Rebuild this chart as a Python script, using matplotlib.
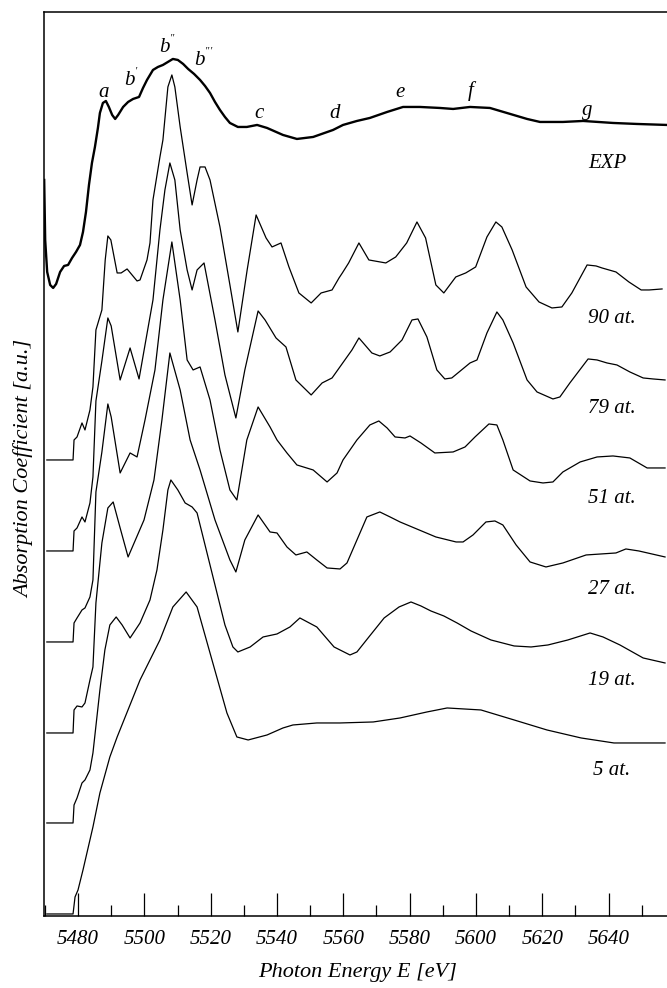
import matplotlib
matplotlib.use("Agg")
import matplotlib.pyplot as plt
from matplotlib.ticker import MultipleLocator

# ---------------- data (energies in eV, intensities in a.u.) ----------------
exp_E = [5469.8, 5470.1, 5470.7, 5471.6, 5472.5, 5473.4, 5474.6, 5475.8, 5477.0, 5478.2,
         5479.4, 5480.6, 5481.5, 5482.4, 5483.3, 5484.2, 5485.1, 5486.0, 5486.6, 5487.5,
         5488.4, 5489.3, 5490.3, 5491.2, 5492.1, 5493.6, 5495.1, 5496.6, 5498.4, 5499.6,
         5500.8, 5502.6, 5504.1, 5505.6, 5507.1, 5508.6, 5510.1, 5511.7, 5513.2, 5515.0,
         5516.8, 5518.3, 5519.8, 5521.3, 5522.8, 5524.3, 5525.8, 5528.2, 5530.9, 5534.0,
         5537.0, 5541.8, 5546.0, 5550.9, 5556.9, 5559.9, 5564.1, 5568.0, 5573.2, 5578.0,
         5583.1, 5589.1, 5593.1, 5598.2, 5604.2, 5609.3, 5615.4, 5619.3, 5626.2, 5632.3,
         5641.3, 5648.5, 5657.6]
exp_I = [736, 676, 644, 631, 628, 632, 644, 650, 651, 658,
         664, 671, 684, 704, 731, 753, 769, 788, 803, 813,
         815, 809, 801, 797, 801, 809, 814, 817, 819, 828,
         836, 846, 849, 851, 854, 857, 856, 852, 847, 842,
         836, 830, 823, 814, 806, 799, 793, 789, 789, 791,
         788, 781, 777, 779, 786, 791, 795, 798, 804, 809,
         809, 808, 807, 809, 808, 803, 797, 794, 794, 795,
         793, 792, 791]

pre_E = [5470.6, 5478.5, 5478.8, 5479.7, 5481.2, 5482.1, 5483.6, 5484.5]

at90_E = pre_E + [5485.4, 5487.2, 5488.2, 5489.0, 5489.9, 5491.8, 5493.0, 5494.8, 5497.8, 5498.7,
                  5500.8, 5501.7, 5502.6, 5504.7, 5505.6, 5507.1, 5508.3, 5509.2, 5510.8, 5512.9,
                  5514.4, 5515.9, 5516.8, 5518.3, 5519.8, 5522.8, 5525.8, 5528.2, 5531.0, 5533.7,
                  5536.7, 5538.5, 5541.2, 5543.6, 5546.6, 5550.3, 5553.3, 5556.6, 5558.7, 5559.7,
                  5561.6, 5564.7, 5567.7, 5572.8, 5575.8, 5579.1, 5582.2, 5584.8, 5587.9, 5590.3,
                  5593.9, 5596.9, 5599.9, 5603.3, 5606.0, 5607.8, 5610.9, 5615.1, 5619.0, 5622.9,
                  5625.9, 5628.9, 5633.5, 5636.2, 5638.0, 5642.2, 5646.1, 5649.8, 5652.2, 5656.1]
at90_I = [0, 0, 20, 23, 37, 30, 50, 73] + \
         [130, 150, 200, 224, 220, 187, 187, 191, 179, 180,
          200, 217, 260, 303, 320, 373, 385, 373, 333, 287,
          255, 280, 293, 293, 280, 233, 175, 128, 190, 245,
          222, 213, 217, 193, 167, 157, 167, 170, 182, 187,
          197, 217, 200, 197, 203, 217, 238, 222, 175, 167,
          183, 187, 193, 223, 238, 233, 210, 173, 158, 152,
          153, 167, 195, 194, 192, 188, 178, 170, 170, 171]

at79_E = pre_E + [5485.4, 5487.2, 5489.0, 5490.0, 5492.7, 5495.7, 5498.4, 5500.2, 5502.6, 5504.7,
                  5506.2, 5507.7, 5509.2, 5510.8, 5512.9, 5514.4, 5515.9, 5518.0, 5521.3, 5524.3,
                  5527.6, 5530.3, 5534.3, 5536.4, 5539.7, 5542.7, 5545.7, 5550.3, 5553.6,
                  5556.6, 5562.6, 5564.7, 5568.6, 5571.0, 5574.1, 5577.7, 5580.7, 5582.5, 5585.2,
                  5588.2, 5590.6, 5592.7, 5598.2, 5600.3, 5603.3, 5606.3, 5608.1, 5611.2, 5615.4,
                  5618.4, 5623.2, 5625.3, 5628.3, 5633.8, 5636.5, 5639.5, 5642.5, 5646.4, 5650.4,
                  5653.4, 5657.0]
at79_I = [0, 0, 20, 23, 34, 29, 48, 74] + \
         [150, 190, 233, 225, 171, 203, 172, 206, 251, 321,
          361, 388, 371, 321, 281, 261, 281, 288, 231, 176,
          133, 181, 240, 231, 213, 204, 171, 156, 168,
          173, 201, 213, 198, 195, 199, 211, 231, 232, 214,
          181, 172, 173, 188, 191, 218, 239, 231, 208, 171,
          159, 152, 154, 168, 192, 191, 188, 186, 179, 173,
          172, 171]

at51_E = pre_E + [5485.4, 5487.2, 5489.0, 5490.0, 5492.7, 5495.7, 5497.8, 5500.2, 5503.2, 5505.6,
                  5508.3, 5510.8, 5512.9, 5514.7, 5516.8, 5519.8, 5522.8, 5525.8, 5527.9, 5530.9,
                  5534.3, 5537.9, 5540.0, 5543.0, 5546.0, 5550.9, 5555.1, 5558.1, 5559.9, 5564.1,
                  5568.0, 5570.7, 5573.2, 5575.6, 5578.6, 5580.1, 5583.4, 5587.6, 5593.1, 5596.7,
                  5599.7, 5603.9, 5606.3, 5608.1, 5611.2, 5616.3, 5620.2, 5623.2, 5626.2, 5631.4,
                  5636.5, 5641.3, 5646.4, 5651.6, 5657.0]
at51_I = [0, 0, 19, 24, 32, 34, 45, 62] + \
         [150, 190, 238, 225, 169, 189, 185, 222, 272, 342,
          400, 342, 282, 272, 275, 242, 192, 152, 142, 202,
          235, 215, 202, 189, 177, 172, 160, 169, 182, 202,
          217, 221, 214, 205, 204, 206, 199, 189, 190, 195,
          205, 218, 217, 202, 172, 161, 159, 160, 170, 180,
          185, 186, 184, 174, 174]

at27_E = pre_E + [5485.4, 5487.2, 5489.0, 5490.6, 5492.7, 5495.1, 5499.9, 5502.9, 5505.3, 5507.7,
                  5510.8, 5513.8, 5516.8, 5521.3, 5525.8, 5527.6, 5530.3, 5534.3, 5537.9, 5540.0,
                  5543.0, 5545.7, 5549.0, 5552.0, 5555.1, 5559.0, 5561.1, 5564.1, 5567.1, 5571.0,
                  5574.1, 5577.1, 5580.7, 5587.9, 5594.0, 5596.1, 5599.1, 5603.0, 5605.7, 5608.1,
                  5612.1, 5616.3, 5621.1, 5626.2, 5633.2, 5642.2, 5645.2, 5649.1, 5657.0]
at27_I = [0, 0, 23, 27, 26, 30, 53, 66] + \
         [130, 190, 225, 231, 205, 176, 213, 253, 313, 380,
          343, 293, 263, 213, 173, 161, 193, 218, 201, 200,
          186, 178, 181, 173, 165, 164, 170, 193, 216, 221,
          216, 211, 206, 196, 191, 191, 198, 211, 212, 208,
          188, 171, 166, 170, 178, 180, 184, 182, 176]

at19_E = pre_E + [5486.6, 5488.1, 5489.6, 5491.5, 5493.3, 5495.7, 5498.7, 5501.7, 5503.8, 5505.6,
                  5507.1, 5508.0, 5510.1, 5512.3, 5514.4, 5515.9, 5518.3, 5521.3, 5524.3, 5526.7,
                  5528.2, 5531.9, 5535.8, 5540.0, 5543.9, 5546.9, 5552.0, 5557.2, 5560.2, 5562.0,
                  5564.1, 5567.7, 5572.3, 5576.8, 5580.4, 5583.4, 5586.4, 5590.3, 5594.3, 5598.5,
                  5604.5, 5611.5, 5616.6, 5621.7, 5627.7, 5634.4, 5638.3, 5643.4, 5650.4, 5657.0]
at19_I = [0, 0, 18, 25, 40, 43, 53, 70] + \
         [133, 173, 198, 206, 198, 185, 200, 223, 253, 293,
          333, 343, 333, 320, 316, 310, 278, 238, 198, 176,
          171, 176, 186, 189, 196, 205, 196, 176, 171, 168,
          171, 186, 205, 216, 221, 217, 212, 207, 200, 192,
          183, 177, 176, 178, 183, 190, 186, 178, 165, 160]

at5_E = [5470.6, 5478.5, 5479.1, 5480.0, 5481.5, 5484.5, 5486.6, 5489.6, 5491.8, 5498.7,
         5504.7, 5508.6, 5512.6, 5515.9, 5519.8, 5524.9, 5527.9, 5531.3, 5537.0, 5541.8,
         5544.8, 5552.0, 5559.0, 5569.0, 5577.1, 5585.2, 5591.3, 5601.5, 5611.5, 5621.4,
         5631.7, 5641.6, 5652.2, 5657.0]
at5_I = [0, 0, 17, 24, 44, 87, 121, 157, 177, 234,
         274, 307, 322, 307, 261, 201, 177, 174, 179, 186,
         189, 191, 191, 192, 196, 202, 206, 204, 194, 184,
         176, 171, 171, 171]

series = [("90 at.", at90_E, at90_I), ("79 at.", at79_E, at79_I), ("51 at.", at51_E, at51_I),
          ("27 at.", at27_E, at27_I), ("19 at.", at19_E, at19_I), ("5 at.", at5_E, at5_I)]
offsets = [456, 365, 274, 183, 93, 2]

peak_labels = ["a", "b$^{'}$", "b$^{''}$", "b$^{'''}$", "c", "d", "e", "f", "g"]
peak_E = [5487.8, 5496.0, 5507.0, 5518.0, 5534.5, 5557.5, 5577.0, 5598.5, 5633.5]
peak_y = [819, 829, 862, 849, 798, 798, 819, 820, 801]

# ---------------- figure ----------------
plt.rcParams['font.family'] = ['Liberation Serif', 'DejaVu Serif']
plt.rcParams['mathtext.fontset'] = 'custom'
plt.rcParams['mathtext.it'] = 'Liberation Serif:italic'
plt.rcParams['mathtext.rm'] = 'Liberation Serif:italic'

fig = plt.figure(figsize=(6.67, 9.88), dpi=100)
ax = fig.add_axes([0.066, 0.0729, 0.94, 0.915])

ax.plot(exp_E, exp_I, color='black', lw=1.7)
for (name, E, I), off in zip(series, offsets):
    ax.plot(E, [v + off for v in I], color='black', lw=0.9)

lab_y = [593, 503, 413, 322, 231, 141]
for (name, E, I), ly in zip(series, lab_y):
    ax.text(5641.0, ly, name, ha='center', va='baseline', fontsize=15, style='italic')
ax.text(5639.5, 748, "EXP", ha='center', va='baseline', fontsize=15, style='italic')
for lab, e, y in zip(peak_labels, peak_E, peak_y):
    ax.text(e, y, lab, ha='center', va='baseline', fontsize=15, style='italic')

ax.set_xlim(5469.75, 5658.8)
ax.set_ylim(0, 904)
ax.xaxis.set_major_locator(MultipleLocator(20))
ax.xaxis.set_minor_locator(MultipleLocator(10))
ax.tick_params(axis='x', which='major', direction='in', length=16.5, width=0.9, pad=10,
               labelsize=15, top=False)
ax.tick_params(axis='x', which='minor', direction='in', length=8, width=0.9, top=False)
for lbl in ax.get_xticklabels():
    lbl.set_fontstyle('italic')
ax.set_yticks([])
ax.spines['right'].set_visible(False)
for s in ['left', 'bottom', 'top']:
    ax.spines[s].set_linewidth(1.1)

fig.text(358 / 667, 1 - 977 / 988, "Photon Energy E [eV]", ha='center', va='baseline',
         fontsize=16, style='italic')
fig.text(24 / 667, 1 - 469 / 988, "Absorption Coefficient [a.u.]", ha='center', va='center',
         rotation=90, fontsize=16, style='italic')

fig.savefig("out.png", dpi=100)
